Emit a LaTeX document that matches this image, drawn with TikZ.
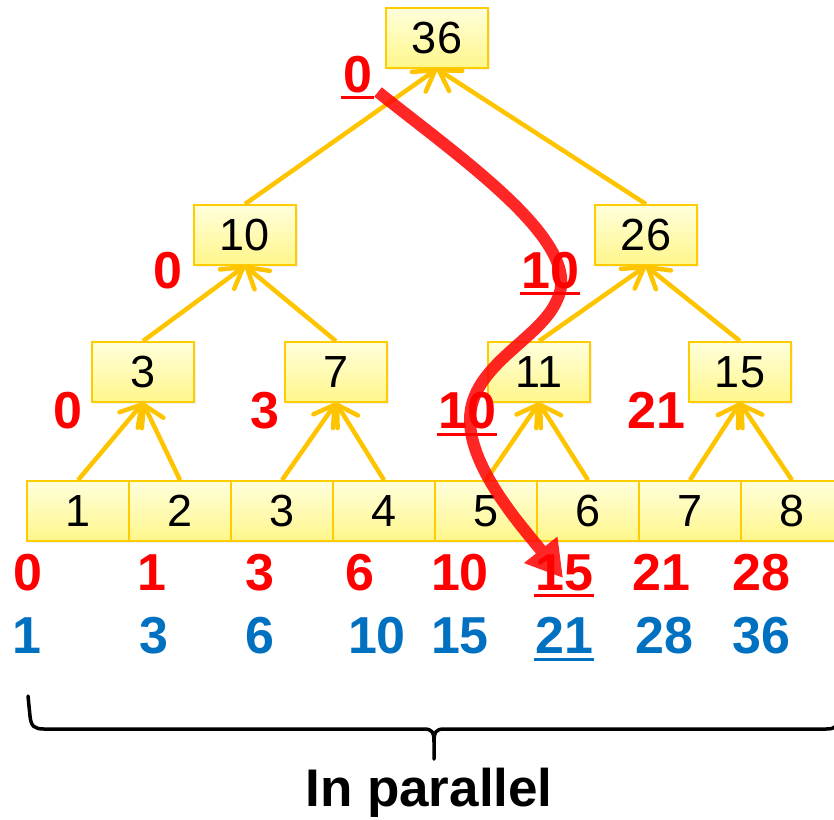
\documentclass[tikz,border=0pt]{standalone}
\usepackage{fontspec}
\setmainfont{Liberation Sans}
\usetikzlibrary{arrows.meta,shadows}
\definecolor{gold}{HTML}{FFC400}
\definecolor{boxedge}{HTML}{FFCC00}
\definecolor{boxtop}{HTML}{FFFFDC}
\definecolor{boxbot}{HTML}{FFF68A}
\definecolor{lblred}{HTML}{FF0000}
\definecolor{lblblue}{HTML}{0070C0}
\begin{document}
\begin{tikzpicture}[x=1pt,y=-1pt,
  valbox/.style={draw=boxedge, line width=1.8pt, top color=boxtop, bottom color=boxbot,
    minimum width=102pt, minimum height=60pt, inner sep=0pt,
    font=\fontsize{45}{45}\selectfont,
    drop shadow={opacity=0.12, shadow xshift=2pt, shadow yshift=-2pt}},
  uparrow/.style={draw=gold, line width=4.5pt, -{Straight Barb[length=20pt,width=24pt,round]}},
  rlbl/.style={font=\fontsize{52}{52}\selectfont\bfseries, inner sep=0pt, text=lblred, anchor=base},
  blbl/.style={font=\fontsize{52}{52}\selectfont\bfseries, inner sep=0pt, text=lblblue, anchor=base},
  ulred/.style={draw=lblred, line width=2.6pt},
  ulblue/.style={draw=lblblue, line width=2.6pt},
  redpath/.style={draw=lblred, line width=12pt, -{Triangle[length=36pt,width=40pt]}},
  bracepath/.style={draw=black, line width=3.5pt, line cap=round, line join=round}
]
\useasboundingbox (0,0) rectangle (834,819);
\clip (0,0) rectangle (834,819);

% boxes
\node[valbox] (top) at (437,38) {36};
\node[valbox] (a1) at (245,235) {10};
\node[valbox] (a2) at (646,235) {26};
\node[valbox] (b1) at (143,372) {3};
\node[valbox] (b2) at (336,372) {7};
\node[valbox] (b3) at (539,372) {11};
\node[valbox] (b4) at (740,372) {15};
\node[valbox] (l1) at (78,511) {1};
\node[valbox] (l2) at (180,511) {2};
\node[valbox] (l3) at (282,511) {3};
\node[valbox] (l4) at (384,511) {4};
\node[valbox] (l5) at (486,511) {5};
\node[valbox] (l6) at (588,511) {6};
\node[valbox] (l7) at (690,511) {7};
\node[valbox] (l8) at (792,511) {8};

% up arrows
\draw[uparrow] (a1.north) -- (top.south);
\draw[uparrow] (a2.north) -- (top.south);
\draw[uparrow] (b1.north) -- (a1.south);
\draw[uparrow] (b2.north) -- (a1.south);
\draw[uparrow] (b3.north) -- (a2.south);
\draw[uparrow] (b4.north) -- (a2.south);
\draw[uparrow] (l1.north) -- (b1.south);
\draw[uparrow] (l2.north) -- (b1.south);
\draw[uparrow] (l3.north) -- (b2.south);
\draw[uparrow] (l4.north) -- (b2.south);
\draw[uparrow] (l5.north) -- (b3.south);
\draw[uparrow] (l6.north) -- (b3.south);
\draw[uparrow] (l7.north) -- (b4.south);
\draw[uparrow] (l8.north) -- (b4.south);

% red labels on tree
\node[rlbl] (t0) at (358,92) {0};
\node[rlbl] (t1) at (168,288) {0};
\node[rlbl] (t2) at (550,288) {10};
\node[rlbl] (t3) at (68,428) {0};
\node[rlbl] (t4) at (265,428) {3};
\node[rlbl] (t5) at (467,428) {10};
\node[rlbl] (t6) at (656,428) {21};
\draw[ulred] ([shift={(-2,5)}]t0.south west) -- ([shift={(1,5)}]t0.south east);
\draw[ulred] ([shift={(-1,5)}]t2.south west) -- ([shift={(1,5)}]t2.south east);
\draw[ulred] ([shift={(-1,6)}]t5.south west) -- ([shift={(1,6)}]t5.south east);

% red row
\node[rlbl] (r1) at (28,590) {0};
\node[rlbl] (r2) at (152,590) {1};
\node[rlbl] (r3) at (260,590) {3};
\node[rlbl] (r4) at (360,590) {6};
\node[rlbl] (r5) at (460,590) {10};
\node[rlbl] (r6) at (564,590) {15};
\node[rlbl] (r7) at (661,590) {21};
\node[rlbl] (r8) at (761,590) {28};
\draw[ulred] ([shift={(-1,5)}]r6.south west) -- ([shift={(1,5)}]r6.south east);

% blue row
\node[blbl] (s1) at (27,653) {1};
\node[blbl] (s2) at (154,653) {3};
\node[blbl] (s3) at (260,653) {6};
\node[blbl] (s4) at (377,653) {10};
\node[blbl] (s5) at (460,653) {15};
\node[blbl] (s6) at (564,653) {21};
\node[blbl] (s7) at (664,653) {28};
\node[blbl] (s8) at (761,653) {36};
\draw[ulblue] ([shift={(-1,6)}]s6.south west) -- ([shift={(1,6)}]s6.south east);

% brace
\draw[bracepath] (28,696) -- (30,716) .. controls (31,726) and (34,729) .. (44,729)
  -- (424,729) .. controls (432,729) and (434,732) .. (434,742) -- (434,759)
  (434,742) .. controls (434,732) and (436,729) .. (444,729)
  -- (826,729) .. controls (836,729) and (838,726) .. (839,716) -- (840,696);
\node[font=\fontsize{53}{53}\selectfont\bfseries, inner sep=0pt, anchor=base] (ip) at (429,806) {In parallel};

% red curved arrow
\coordinate (rs) at (378,92);
\coordinate (re) at (563,578);
\begin{scope}[transparency group, opacity=0.85]
\draw[redpath] (rs) .. controls (470,165) and (585,245) .. (557,300)
  .. controls (540,340) and (470,365) .. (470,420)
  .. controls (470,470) and (525,530) .. (re);
\end{scope}
\end{tikzpicture}
\end{document}
